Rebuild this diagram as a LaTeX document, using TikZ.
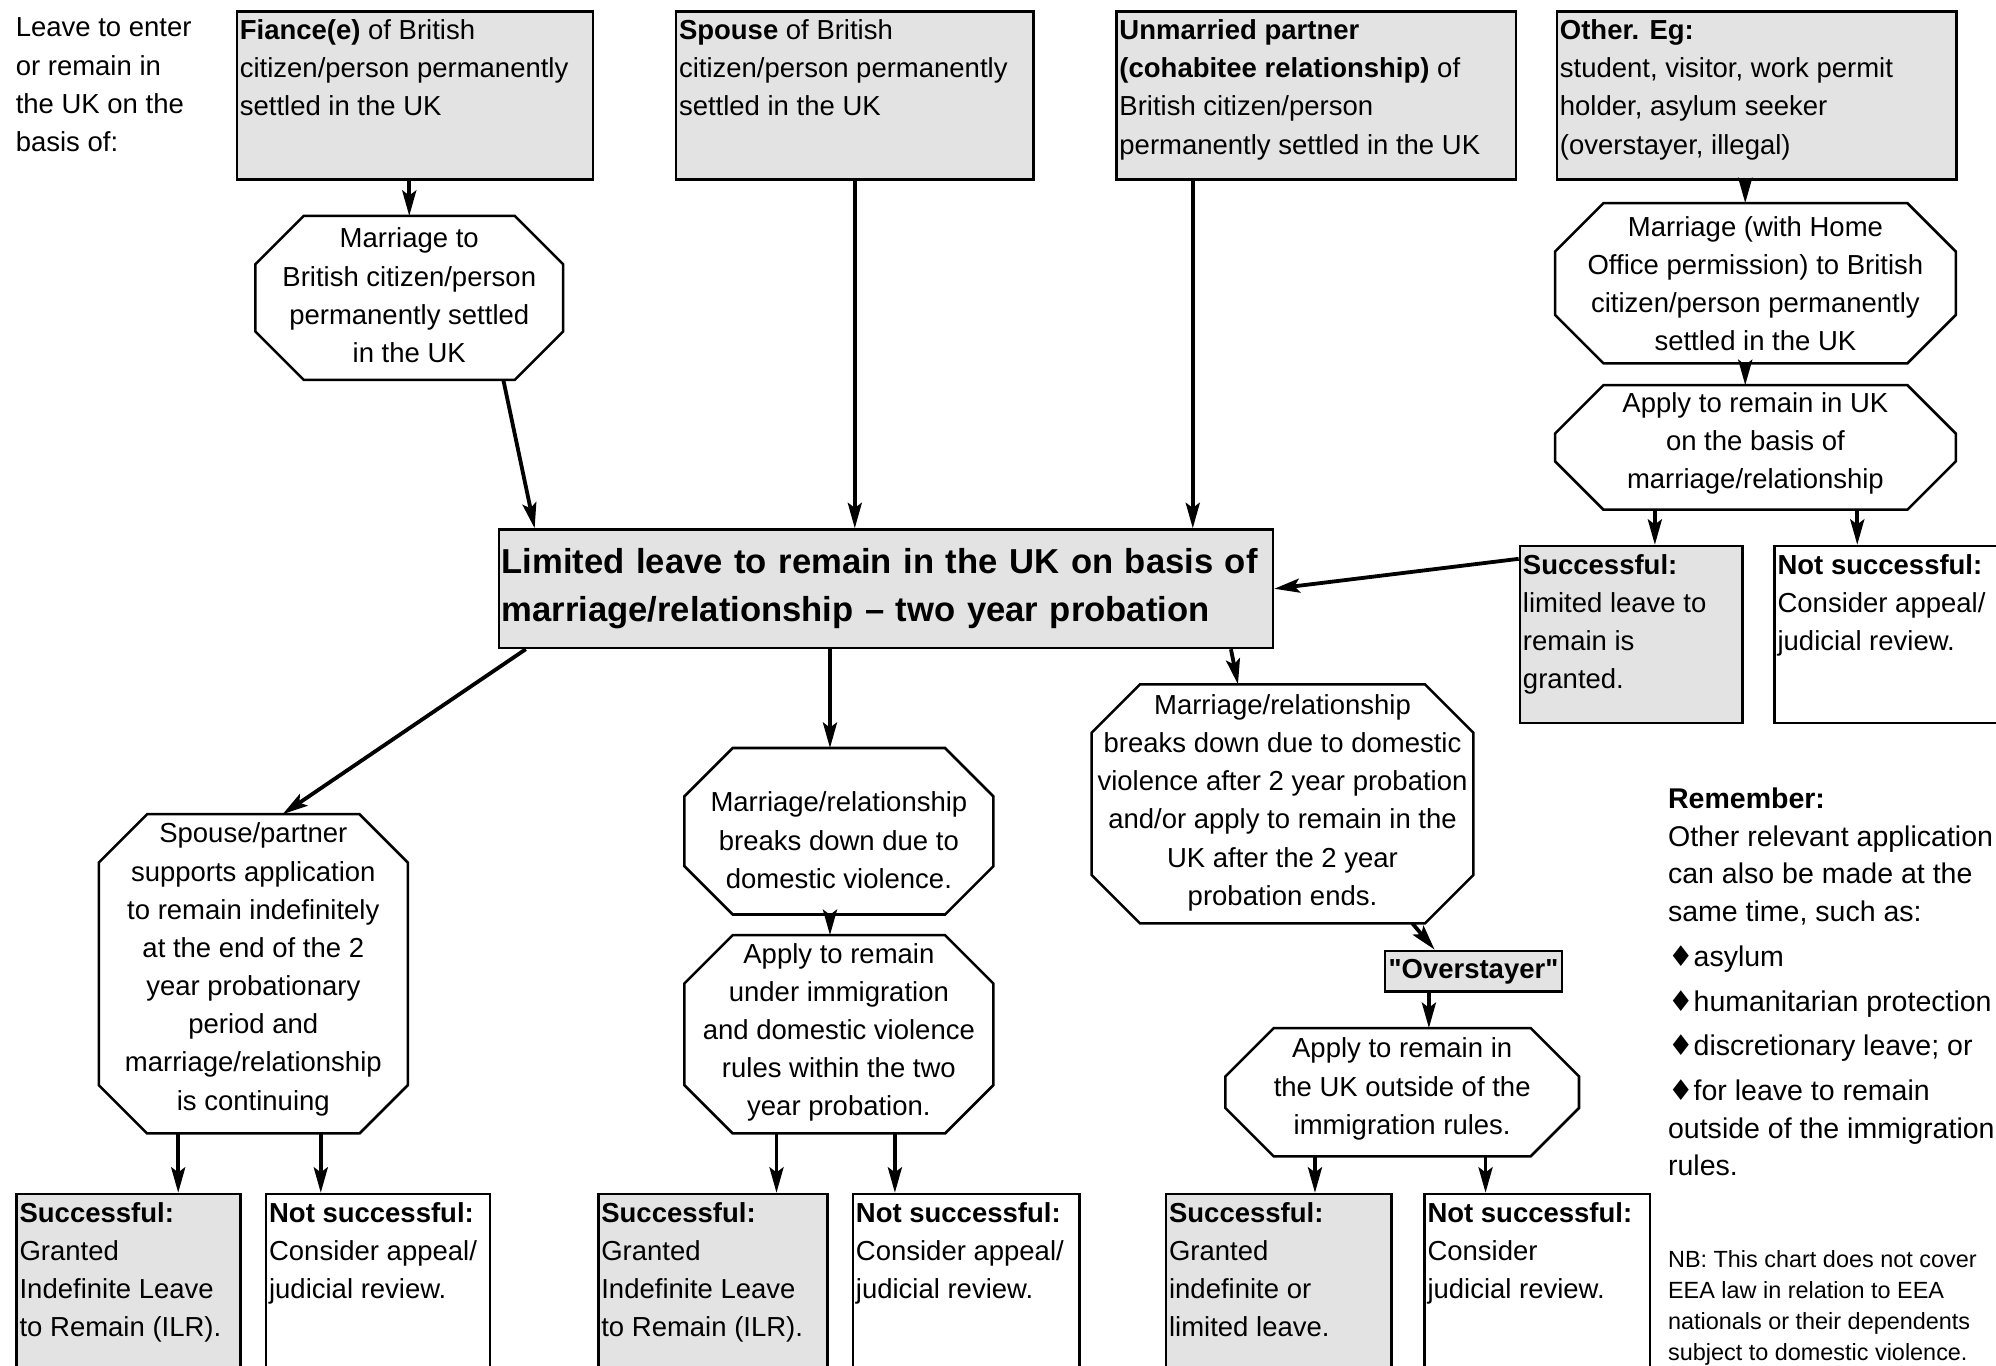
\documentclass[tikz,border=0pt]{standalone}
\usepackage{fontspec}
\setmainfont{Liberation Sans}
\newfontfamily\nolig{Liberation Sans}[Ligatures=TeXOff]
\newfontfamily\symfont{DejaVu Sans}
\usetikzlibrary{arrows.meta,calc}
\definecolor{boxgrey}{HTML}{E3E3E3}
\newcommand\fst{\rule{0pt}{10.3pt}}
\newcommand\dia{{\symfont ♦}}
\tikzset{
 boxline/.style={draw=black,line width=1pt},
 gbox/.style={boxline,fill=boxgrey,rectangle,inner sep=0pt,anchor=north west},
 wbox/.style={boxline,fill=white,rectangle,inner sep=0pt,anchor=north west},
 btext/.style={anchor=north west,align=left,inner xsep=1.5pt,inner ysep=1pt,font=\fontsize{10.8}{15}\selectfont},
 frame/.style={rectangle,inner sep=0pt},
 otext/.style={align=center,inner sep=0pt,font=\fontsize{10.8}{15}\selectfont},
 octline/.style={draw=black,line width=1pt,line join=miter},
 arr/.style={line width=1.5pt,-{Stealth[length=10pt,width=5.5pt,inset=2pt]}},
}
\newcommand\mybox[6]{\node[#1,minimum width={0.5pt*(#5-#3)},minimum height={0.5pt*(#6-#4)}] (#2) at (#3,#4) {};}
\newcommand\octo[7]{%
 \node[frame,minimum width={0.5pt*#4},minimum height={0.5pt*#5}] (#1) at (#2,#3) {};
 \node[otext] (#1t) at (#2,#6) {#7};
 \draw[octline] ($(#1.north west)+(38,0)$) -- ($(#1.north east)+(-38,0)$) -- ($(#1.north east)+(0,38)$) -- ($(#1.south east)+(0,-38)$) -- ($(#1.south east)+(-38,0)$) -- ($(#1.south west)+(38,0)$) -- ($(#1.south west)+(0,-38)$) -- ($(#1.north west)+(0,38)$) -- cycle;}
\begin{document}
\begin{tikzpicture}[x=0.5pt,y=-0.5pt]
\useasboundingbox (0,0) rectangle (1568,1073);
\clip (0,0) rectangle (1568,1073);
\fill[white] (0,0) rectangle (1568,1073);

% intro text
\node[btext] (intro) at (9,6) {\fst Leave to enter\\or remain in\\the UK on the\\basis of:};

% top boxes
\mybox{gbox}{fiance}{185}{8}{465}{140}
\node[btext] (fiancet) at (fiance.north west) {\fst\textbf{Fiance(e)} of British\\citizen/person permanently\\settled in the UK};
\mybox{gbox}{spouse}{530}{8}{811}{140}
\node[btext] (spouset) at (spouse.north west) {\fst\textbf{Spouse} of British\\citizen/person permanently\\settled in the UK};
\mybox{gbox}{unm}{876}{8}{1190}{140}
\node[btext] (unmt) at (unm.north west) {\fst\textbf{Unmarried partner}\\\textbf{(cohabitee relationship)} of\\British citizen/person\\permanently settled in the UK};
\mybox{gbox}{other}{1222}{8}{1536}{140}
\node[btext] (othert) at (other.north west) {\fst\textbf{Other. Eg:}\\student, visitor, work permit\\holder, asylum seeker\\(overstayer, illegal)};

% octagons
\octo{o1}{321.5}{234}{241}{128}{232}{Marriage to\\British citizen/person\\permanently settled\\in the UK}
\octo{o2}{1379}{222.5}{314}{125}{223}{Marriage (with Home\\Office permission) to British\\citizen/person permanently\\settled in the UK}
\octo{o3}{1379}{351.5}{314}{97}{348.5}{Apply to remain in UK\\on the basis of\\marriage/relationship}
\octo{o4}{199}{765}{242}{250}{761.5}{Spouse/partner\\supports application\\to remain indefinitely\\at the end of the 2\\year probationary\\period and\\marriage/relationship\\is continuing}
\octo{o5}{659}{653}{242}{130}{660}{Marriage/relationship\\breaks down due to\\domestic violence.}
\octo{o6}{659}{812.5}{242}{155}{811}{Apply to remain\\under immigration\\and domestic violence\\rules within the two\\year probation.}
\octo{o7}{1007.5}{631.5}{299}{187}{630.5}{Marriage/relationship\\breaks down due to domestic\\violence after 2 year probation\\and/or apply to remain in the\\UK after the 2 year\\probation ends.}
\octo{o8}{1101.5}{858}{277}{100}{855.5}{Apply to remain in\\the UK outside of the\\immigration rules.}

% central box
\node[gbox,text width=302pt,minimum height=46.5pt,align=left,inner xsep=1pt,font=\bfseries\fontsize{13.6}{19}\selectfont] (central) at (391,415) {Limited leave to remain in the UK on basis of\\marriage/relationship -- two year probation};

% right result boxes
\mybox{gbox}{succ1}{1193}{428}{1368}{567}
\node[btext] (succ1t) at (succ1.north west) {\fst\textbf{Successful:}\\limited leave to\\remain is\\granted.};
\mybox{wbox}{not1}{1393}{428}{1580}{567}
\node[btext] (not1t) at (not1.north west) {\fst\textbf{Not successful:}\\Consider appeal/\\judicial review.};

% overstayer
\node[gbox,minimum width=69.5pt,minimum height=16pt,font=\nolig\bfseries\fontsize{10.8}{13}\selectfont] (over) at (1087,746) {"Overstayer"};

% bottom boxes
\mybox{gbox}{sl}{12}{937}{188}{1090}
\node[btext] (slt) at (sl.north west) {\fst\textbf{Successful:}\\Granted\\Indefinite Leave\\to Remain (ILR).};
\mybox{wbox}{nl}{208}{937}{384}{1090}
\node[btext] (nlt) at (nl.north west) {\fst\textbf{Not successful:}\\Consider appeal/\\judicial review.};
\mybox{gbox}{sm}{469}{937}{649}{1090}
\node[btext] (smt) at (sm.north west) {\fst\textbf{Successful:}\\Granted\\Indefinite Leave\\to Remain (ILR).};
\mybox{wbox}{nm}{669}{937}{847}{1090}
\node[btext] (nmt) at (nm.north west) {\fst\textbf{Not successful:}\\Consider appeal/\\judicial review.};
\mybox{gbox}{sr}{915}{937}{1092}{1090}
\node[btext] (srt) at (sr.north west) {\fst\textbf{Successful:}\\Granted\\indefinite or\\limited leave.};
\mybox{wbox}{nr}{1118}{937}{1295}{1090}
\node[btext] (nrt) at (nr.north west) {\fst\textbf{Not successful:}\\Consider\\judicial review.};

% remember text
\node[btext,inner xsep=0pt,font=\fontsize{11.2}{14.8}\selectfont] (remember) at (1310,612) {\fst\textbf{Remember:}\\Other relevant application\\can also be made at the\\same time, such as:\\[2.8pt]\dia asylum\\[2.8pt]\dia humanitarian protection\\[2.8pt]\dia discretionary leave; or\\[2.8pt]\dia for leave to remain\\outside of the immigration\\rules.};
\node[anchor=north west,align=left,inner xsep=0pt,inner ysep=1pt,font=\fontsize{9.2}{12.25}\selectfont] (nb) at (1310,976) {\rule{0pt}{8.6pt}NB: This chart does not cover\\EEA law in relation to EEA\\nationals or their dependents\\subject to domestic violence.};

% arrows
\draw[arr] (o1.north |- fiance.south) -- (o1.north);
\draw[arr] ($(o1.south east)+(-47,0)$) -- ($(central.north west)+(29,0)$);
\draw[arr] (spouse.south) -- (spouse.south |- central.north);
\coordinate (u1) at ($(unm.south west)+(61,0)$);
\draw[arr] (u1) -- (u1 |- central.north);
\coordinate (ot1) at ($(other.south)+(-9,0)$);
\draw[arr] (ot1) -- (ot1 |- o2.north);
\draw[arr] (ot1 |- o2.south) -- (ot1 |- o3.north);
\coordinate (a1) at ($(succ1.north west)+(107,0)$);
\draw[arr] (a1 |- o3.south) -- (a1);
\coordinate (a2) at ($(not1.north west)+(66,0)$);
\draw[arr] (a2 |- o3.south) -- (a2);
\draw[arr] ($(succ1.north west)+(0,11)$) -- (central.east);
\draw[arr] ($(central.south west)+(22,0)$) -- ($(o4.north)+(23,0)$);
\coordinate (a3) at ($(o5.north)+(-7,0)$);
\draw[arr] (a3 |- central.south) -- (a3);
\draw[arr] (a3 |- o5.south) -- (a3 |- o6.north);
\draw[arr] ($(central.south east)+(-34,0)$) -- ($(o7.north)+(-35,0)$);
\draw[arr] ($(o7.south)+(102,0)$) -- ($(over.north west)+(40,0)$);
\coordinate (a4) at ($(over.south)+(-35,0)$);
\draw[arr] (a4) -- (a4 |- o8.north);
\coordinate (a5) at ($(sr.north west)+(118,0)$);
\draw[arr] (a5 |- o8.south) -- (a5);
\coordinate (a6) at ($(nr.north west)+(49,0)$);
\draw[arr] (a6 |- o8.south) -- (a6);
\coordinate (a7) at ($(sm.north west)+(141,0)$);
\draw[arr] (a7 |- o6.south) -- (a7);
\coordinate (a8) at ($(nm.north west)+(34,0)$);
\draw[arr] (a8 |- o6.south) -- (a8);
\coordinate (a9) at ($(sl.north west)+(128,0)$);
\draw[arr] (a9 |- o4.south) -- (a9);
\coordinate (a10) at ($(nl.north west)+(44,0)$);
\draw[arr] (a10 |- o4.south) -- (a10);
\end{tikzpicture}
\end{document}
